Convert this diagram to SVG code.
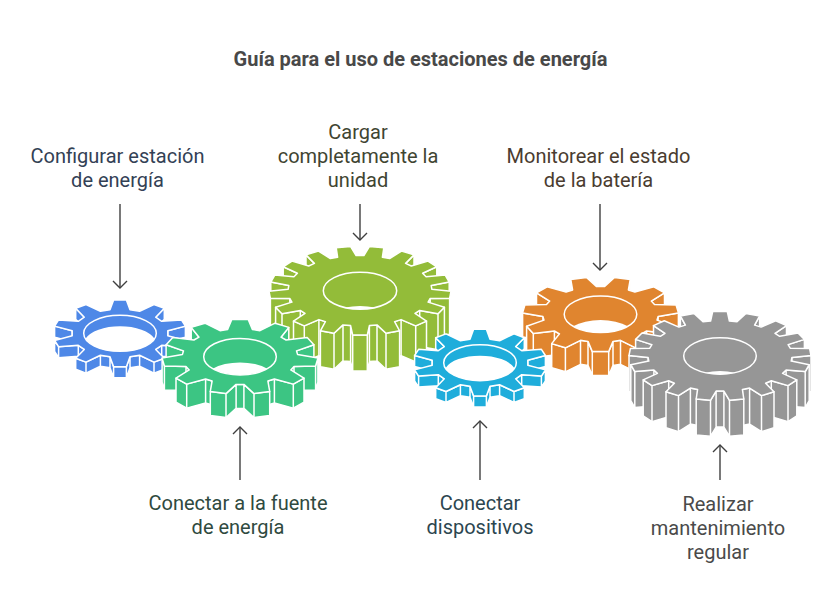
<svg xmlns="http://www.w3.org/2000/svg" xmlns:xlink="http://www.w3.org/1999/xlink" width="836" height="613" viewBox="0 0 836 613">
<style>
text{font-family:Roboto,"Liberation Sans",sans-serif;font-size:20px;text-anchor:middle}
.title{font-weight:700;fill:#484848}
.w path,.f{stroke:#fff;stroke-width:1.5;stroke-linejoin:round}
.h{stroke:#fff;stroke-width:1.5}
.c{fill:#fff}
.conn path{fill:none;stroke:#3f3f3f;stroke-width:1.4}
</style>
<defs>
<marker id="ah" viewBox="0 0 16 16" refX="14" refY="8" markerWidth="16" markerHeight="16" markerUnits="userSpaceOnUse" orient="auto"><path d="M7 1L14 8L7 15" fill="none" stroke="#3f3f3f" stroke-width="1.4"/></marker>
<g id="w10" class="w">
<path d="M44.3 -25L35.7 -16.1V-5.1L44.3 -14Z"/>
<path d="M65.4 -7.2L47.8 -2.5V8.5L65.4 3.8Z"/>
<path d="M65.4 7.2L61.4 13.4L41.7 12L35.7 16.1V27.1L41.7 23L61.4 24.4L65.4 18.2ZM61.4 13.4V24.4M41.7 12V23"/>
</g>
<g id="g10">
<use href="#w10"/><use href="#w10" transform="scale(-1 1)"/>
<path class="f" d="M44.3 25L34 28.8L19.6 22L10 23.5L6.4 33.4L-6.4 33.4L-10 23.5L-19.6 22L-34 28.8L-44.3 25V36L-34 39.8L-19.6 33L-10 34.5L-6.4 44.4L6.4 44.4L10 34.5L19.6 33L34 39.8L44.3 36ZM34 28.8V39.8M19.6 22V33M10 23.5V34.5M6.4 33.4V44.4M-6.4 33.4V44.4M-10 23.5V34.5M-19.6 22V33M-34 28.8V39.8"/>
<polygon class="f" points="-6.4,-33.4 6.4,-33.4 10,-23.5 19.6,-22 34,-28.8 44.3,-25 35.7,-16.1 41.7,-12 61.4,-13.4 65.4,-7.2 47.8,-2.5 47.8,2.5 65.4,7.2 61.4,13.4 41.7,12 35.7,16.1 44.3,25 34,28.8 19.6,22 10,23.5 6.4,33.4 -6.4,33.4 -10,23.5 -19.6,22 -34,28.8 -44.3,25 -35.7,16.1 -41.7,12 -61.4,13.4 -65.4,7.2 -47.8,2.5 -47.8,-2.5 -65.4,-7.2 -61.4,-13.4 -41.7,-12 -35.7,-16.1 -44.3,-25 -34,-28.8 -19.6,-22 -10,-23.5"/>
<ellipse class="h" rx="36.3" ry="18"/>
<path class="c" d="M-34.6 5.5A36.3 18 0 0 0 34.6 5.5A36.3 18 0 0 0 -34.6 5.5Z"/>
</g>
<g id="w11g" class="w">
<path d="M48.8 -29.3L41 -19.5V4.5L48.8 -5.3Z"/>
<path d="M73.9 -11.9L56.5 -5.8V18.2L73.9 12.1Z"/>
<path d="M77.9 1.4L75.6 9.2L54 9.8L50.8 13.2V37.2L54 33.8L75.6 33.2L77.9 25.4ZM75.6 9.2V33.2M54 9.8V33.8"/>
<path d="M64 21.5L53.3 27.4L34.4 22.3L27.9 24.3V48.3L34.4 46.3L53.3 51.4L64 45.5ZM53.3 27.4V51.4M34.4 22.3V46.3"/>
</g>
<g id="w11o" class="w">
<path d="M29.7 -34.7L27.9 -24.3V-.3L29.7 -10.7Z"/>
<path d="M64 -21.5L50.8 -13.2V10.8L64 2.5Z"/>
<path d="M77.9 -1.4L57.6 2.1L56.5 5.8V29.8L57.6 26.1L77.9 22.6ZM57.6 2.1V26.1"/>
<path d="M73.9 11.9L67.2 19.1L46.1 16.7L41 19.5V43.5L46.1 40.7L67.2 43.1L73.9 35.9ZM67.2 19.1V43.1M46.1 16.7V40.7"/>
</g>
<g id="w17a" class="w">
<path d="M23.8 -42.9L22.4 -33.5V2.5L23.8 -6.9Z"/>
<path d="M54 -35.8L45.6 -27.3V8.7L54 .2Z"/>
<path d="M76.8 -23.9L62.6 -17.4V18.6L76.8 12.1Z"/>
<path d="M89.2 -8.7L71.2 -5.1V30.9L89.2 27.3Z"/>
<path d="M91 .5L89.6 7.6L70.2 7.8L68.1 11.4V47.4L70.2 43.8L89.6 43.6L91 36.5ZM89.6 7.6V43.6M70.2 7.8V43.8"/>
<path d="M84.4 16.6L78 23L59.7 19.7L55 22.7V58.7L59.7 55.7L78 59L84.4 52.6ZM78 23V59M59.7 19.7V55.7"/>
<path d="M66.5 30.4L55.7 35.2L41.1 28.9L34.6 30.9V66.9L41.1 64.9L55.7 71.2L66.5 66.4ZM55.7 35.2V71.2M41.1 28.9V64.9"/>
</g>
<g id="w17b" class="w">
<path d="M39.6 -40.1L34.6 -30.9V5.1L39.6 -4.1Z"/>
<path d="M66.5 -30.4L55 -22.7V13.3L66.5 5.6Z"/>
<path d="M84.4 -16.6L68.1 -11.4V24.6L84.4 19.4Z"/>
<path d="M91 -.5L71.9 1.4V37.4L91 35.5Z"/>
<path d="M89.2 8.7L85.2 15.6L66.1 14L62.6 17.4V53.4L66.1 50L85.2 51.6L89.2 44.7ZM85.2 15.6V51.6M66.1 14V50"/>
<path d="M76.8 23.9L68 29.6L51.3 24.7L45.6 27.3V63.3L51.3 60.7L68 65.6L76.8 59.9ZM68 29.6V65.6M51.3 24.7V60.7"/>
<path d="M54 35.8L41.5 39.6L29.6 32.1L22.4 33.5V69.5L29.6 68.1L41.5 75.6L54 71.8ZM41.5 39.6V75.6M29.6 32.1V68.1"/>
</g>
</defs>
<rect width="836" height="613" fill="#fff"/>
<text class="title" x="420.5" y="66">Guía para el uso de estaciones de energía</text>

<g id="node-cargar" fill="#93BC39">
<g transform="translate(360 290.7)">
<use href="#w17a"/><use href="#w17a" transform="scale(-1 1)"/>
<path class="f" d="M39.6 40.1L26 42.6L17 34.2L9.4 34.9L7.3 44.4L-7.3 44.4L-9.4 34.9L-17 34.2L-26 42.6L-39.6 40.1V76.1L-26 78.6L-17 70.2L-9.4 70.9L-7.3 80.4L7.3 80.4L9.4 70.9L17 70.2L26 78.6L39.6 76.1ZM26 42.6V78.6M17 34.2V70.2M9.4 34.9V70.9M7.3 44.4V80.4M-7.3 44.4V80.4M-9.4 34.9V70.9M-17 34.2V70.2M-26 42.6V78.6"/>
<polygon class="f" points="3.9,-35.1 9.5,-44.3 23.8,-42.9 22.4,-33.5 29.6,-32.1 41.5,-39.6 54,-35.8 45.6,-27.3 51.3,-24.7 68,-29.6 76.8,-23.9 62.6,-17.4 66.1,-14 85.2,-15.6 89.2,-8.7 71.2,-5.1 71.9,-1.4 91,.5 89.6,7.6 70.2,7.8 68.1,11.4 84.4,16.6 78,23 59.7,19.7 55,22.7 66.5,30.4 55.7,35.2 41.1,28.9 34.6,30.9 39.6,40.1 26,42.6 17,34.2 9.4,34.9 7.3,44.4 -7.3,44.4 -9.4,34.9 -17,34.2 -26,42.6 -39.6,40.1 -34.6,30.9 -41.1,28.9 -55.7,35.2 -66.5,30.4 -55,22.7 -59.7,19.7 -78,23 -84.4,16.6 -68.1,11.4 -70.2,7.8 -89.6,7.6 -91,.5 -71.9,-1.4 -71.2,-5.1 -89.2,-8.7 -85.2,-15.6 -66.1,-14 -62.6,-17.4 -76.8,-23.9 -68,-29.6 -51.3,-24.7 -45.6,-27.3 -54,-35.8 -41.5,-39.6 -29.6,-32.1 -22.4,-33.5 -23.8,-42.9 -9.5,-44.3 -3.9,-35.1"/>
<ellipse class="h" rx="36.7" ry="18.5"/>
<path class="c" d="M-15 16.9A36.7 18.5 0 0 0 15 16.9A36.7 18.5 0 0 0 -15 16.9Z"/>
</g>
<text x="358" y="139" fill="#3f4532">Cargar</text>
<text x="358" y="163" fill="#3f4532">completamente la</text>
<text x="358" y="187" fill="#3f4532">unidad</text>
</g>

<g id="node-configurar" fill="#4E88E7">
<use href="#g10" transform="translate(120 333.3)"/>
<text x="117.5" y="163" fill="#334155">Configurar estación</text>
<text x="117.5" y="187" fill="#334155">de energía</text>
</g>

<g id="node-conectar-fuente" fill="#3CC583">
<g transform="translate(240 356.7)">
<use href="#w11g"/><use href="#w11g" transform="scale(-1 1)"/>
<path class="f" d="M29.7 34.7L14 36.9L3.9 27.7L-3.9 27.7L-14 36.9L-29.7 34.7V58.7L-14 60.9L-3.9 51.7L3.9 51.7L14 60.9L29.7 58.7ZM14 36.9V60.9M3.9 27.7V51.7M-3.9 27.7V51.7M-14 36.9V60.9"/>
<polygon class="f" points="-8.2,-37.3 8.2,-37.3 12.5,-27.1 20,-26 35.1,-33.5 48.8,-29.3 41,-19.5 46.1,-16.7 67.2,-19.1 73.9,-11.9 56.5,-5.8 57.6,-2.1 77.9,1.4 75.6,9.2 54,9.8 50.8,13.2 64,21.5 53.3,27.4 34.4,22.3 27.9,24.3 29.7,34.7 14,36.9 3.9,27.7 -3.9,27.7 -14,36.9 -29.7,34.7 -27.9,24.3 -34.4,22.3 -53.3,27.4 -64,21.5 -50.8,13.2 -54,9.8 -75.6,9.2 -77.9,1.4 -57.6,-2.1 -56.5,-5.8 -73.9,-11.9 -67.2,-19.1 -46.1,-16.7 -41,-19.5 -48.8,-29.3 -35.1,-33.5 -20,-26 -12.5,-27.1"/>
<ellipse class="h" rx="36.3" ry="18.3"/>
<path class="c" d="M-27.4 12A36.3 18.3 0 0 0 27.4 12A36.3 18.3 0 0 0 -27.4 12Z"/>
</g>
<text x="238" y="510" fill="#2f4a40">Conectar a la fuente</text>
<text x="238" y="534" fill="#2f4a40">de energía</text>
</g>

<g id="node-monitorear" fill="#E0852F">
<g transform="translate(600.5 314.3)">
<use href="#w11o"/><use href="#w11o" transform="scale(-1 1)"/>
<path class="f" d="M48.8 29.3L35.1 33.5L20 26L12.5 27.1L8.2 37.3L-8.2 37.3L-12.5 27.1L-20 26L-35.1 33.5L-48.8 29.3V53.3L-35.1 57.5L-20 50L-12.5 51.1L-8.2 61.3L8.2 61.3L12.5 51.1L20 50L35.1 57.5L48.8 53.3ZM35.1 33.5V57.5M20 26V50M12.5 27.1V51.1M8.2 37.3V61.3M-8.2 37.3V61.3M-12.5 27.1V51.1M-20 26V50M-35.1 33.5V57.5"/>
<polygon class="f" points="3.9,-27.7 14,-36.9 29.7,-34.7 27.9,-24.3 34.4,-22.3 53.3,-27.4 64,-21.5 50.8,-13.2 54,-9.8 75.6,-9.2 77.9,-1.4 57.6,2.1 56.5,5.8 73.9,11.9 67.2,19.1 46.1,16.7 41,19.5 48.8,29.3 35.1,33.5 20,26 12.5,27.1 8.2,37.3 -8.2,37.3 -12.5,27.1 -20,26 -35.1,33.5 -48.8,29.3 -41,19.5 -46.1,16.7 -67.2,19.1 -73.9,11.9 -56.5,5.8 -57.6,2.1 -77.9,-1.4 -75.6,-9.2 -54,-9.8 -50.8,-13.2 -64,-21.5 -53.3,-27.4 -34.4,-22.3 -27.9,-24.3 -29.7,-34.7 -14,-36.9 -3.9,-27.7"/>
<ellipse class="h" rx="36.3" ry="18.3"/>
<path class="c" d="M-27.4 12A36.3 18.3 0 0 0 27.4 12A36.3 18.3 0 0 0 -27.4 12Z"/>
</g>
<text x="598.5" y="163" fill="#4a3c30">Monitorear el estado</text>
<text x="598.5" y="187" fill="#4a3c30">de la batería</text>
</g>

<g id="node-conectar-dispositivos" fill="#1FADDB">
<use href="#g10" transform="translate(480 362.7)"/>
<text x="480" y="510" fill="#2c4650">Conectar</text>
<text x="480" y="534" fill="#2c4650">dispositivos</text>
</g>

<g id="node-mantenimiento" fill="#969696">
<g transform="translate(720 356)">
<use href="#w17b"/><use href="#w17b" transform="scale(-1 1)"/>
<path class="f" d="M23.8 42.9L9.5 44.3L3.9 35.1L-3.9 35.1L-9.5 44.3L-23.8 42.9V78.9L-9.5 80.3L-3.9 71.1L3.9 71.1L9.5 80.3L23.8 78.9ZM9.5 44.3V80.3M3.9 35.1V71.1M-3.9 35.1V71.1M-9.5 44.3V80.3"/>
<polygon class="f" points="-7.3,-44.4 7.3,-44.4 9.4,-34.9 17,-34.2 26,-42.6 39.6,-40.1 34.6,-30.9 41.1,-28.9 55.7,-35.2 66.5,-30.4 55,-22.7 59.7,-19.7 78,-23 84.4,-16.6 68.1,-11.4 70.2,-7.8 89.6,-7.6 91,-.5 71.9,1.4 71.2,5.1 89.2,8.7 85.2,15.6 66.1,14 62.6,17.4 76.8,23.9 68,29.6 51.3,24.7 45.6,27.3 54,35.8 41.5,39.6 29.6,32.1 22.4,33.5 23.8,42.9 9.5,44.3 3.9,35.1 -3.9,35.1 -9.5,44.3 -23.8,42.9 -22.4,33.5 -29.6,32.1 -41.5,39.6 -54,35.8 -45.6,27.3 -51.3,24.7 -68,29.6 -76.8,23.9 -62.6,17.4 -66.1,14 -85.2,15.6 -89.2,8.7 -71.2,5.1 -71.9,1.4 -91,-.5 -89.6,-7.6 -70.2,-7.8 -68.1,-11.4 -84.4,-16.6 -78,-23 -59.7,-19.7 -55,-22.7 -66.5,-30.4 -55.7,-35.2 -41.1,-28.9 -34.6,-30.9 -39.6,-40.1 -26,-42.6 -17,-34.2 -9.4,-34.9"/>
<ellipse class="h" rx="36.3" ry="18.3"/>
<path class="c" d="M-15 16.7A36.3 18.3 0 0 0 15 16.7A36.3 18.3 0 0 0 -15 16.7Z"/>
</g>
<text x="718" y="511" fill="#4a4a4a">Realizar</text>
<text x="718" y="535" fill="#4a4a4a">mantenimiento</text>
<text x="718" y="559" fill="#4a4a4a">regular</text>
</g>

<g id="connectors" class="conn">
<path d="M120 204V288" marker-end="url(#ah)"/>
<path d="M360 204V240" marker-end="url(#ah)"/>
<path d="M600 204V270" marker-end="url(#ah)"/>
<path d="M240 480V427" marker-end="url(#ah)"/>
<path d="M480 480V421" marker-end="url(#ah)"/>
<path d="M720 480V445" marker-end="url(#ah)"/>
</g>
</svg>
